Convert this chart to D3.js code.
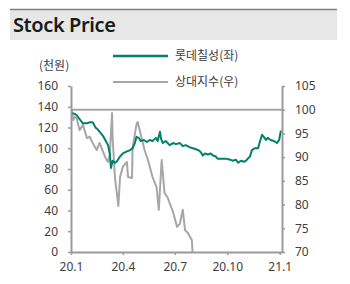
<!DOCTYPE html>
<html>
<head>
<meta charset="utf-8">
<script src="https://cdn.jsdelivr.net/npm/d3@7"></script>
<style>
  body { margin: 0; background: #fff; }
  svg { display: block; }
</style>
</head>
<body>
<svg width="350" height="284"></svg>
<script>
// 롯데칠성 주가 (천원, 좌축)
var lotteDates = ["2020-01-02","2020-01-08","2020-01-11","2020-01-16","2020-01-22","2020-01-29","2020-02-03","2020-02-08","2020-02-13","2020-02-17","2020-02-20","2020-02-26","2020-03-02","2020-03-06","2020-03-09","2020-03-11","2020-03-14","2020-03-18","2020-03-21","2020-03-27","2020-04-01","2020-04-08","2020-04-13","2020-04-18","2020-04-22","2020-04-25","2020-04-29","2020-05-02","2020-05-08","2020-05-13","2020-05-18","2020-05-23","2020-05-29","2020-06-01","2020-06-05","2020-06-07","2020-06-10","2020-06-15","2020-06-22","2020-06-28","2020-07-03","2020-07-10","2020-07-15","2020-07-20","2020-07-27","2020-08-02","2020-08-07","2020-08-12","2020-08-16","2020-08-19","2020-08-23","2020-08-28","2020-09-02","2020-09-06","2020-09-11","2020-09-14","2020-09-22","2020-09-29","2020-10-06","2020-10-11","2020-10-16","2020-10-20","2020-10-25","2020-10-30","2020-11-03","2020-11-06","2020-11-10","2020-11-13","2020-11-18","2020-11-24","2020-11-27","2020-12-01","2020-12-04","2020-12-08","2020-12-11","2020-12-16","2020-12-22","2020-12-27","2020-12-31","2021-01-03"];
var lotteValues = [134,133,132,128,124,124,125,125,120,118,116,112,107,103,95,81,88,86,87,92,95,97,98,100,105,111,110,107,108,106,108,107,110,107,116,109,105,107,103,105,104,105,102,103,101,100,99,98,96,93,95,94,95,93,92,90,90,90,89,88,89,86,88,87,88,90,92,98,100,100,106,113,111,108,110,108,107,105,108,117];

// 상대지수 (우축)
var relDates = ["2020-01-02","2020-01-05","2020-01-08","2020-01-11","2020-01-16","2020-01-22","2020-01-29","2020-02-03","2020-02-08","2020-02-15","2020-02-20","2020-03-01","2020-03-06","2020-03-09","2020-03-13","2020-03-14","2020-03-18","2020-03-24","2020-03-27","2020-04-01","2020-04-08","2020-04-10","2020-04-17","2020-04-18","2020-04-25","2020-04-27","2020-05-04","2020-05-09","2020-05-15","2020-05-23","2020-05-30","2020-06-03","2020-06-08","2020-06-13","2020-06-18","2020-06-28","2020-07-05","2020-07-10","2020-07-15","2020-07-19","2020-07-24","2020-07-31","2020-08-02"];
var relValues = [100,97.8,98.5,98.2,95.7,96.8,94,94.3,93,91.5,93,90,89,90.5,99.3,94,85.8,79.7,85.8,88,89,85.8,85.6,92,97,97.4,94,91.5,89.4,85.8,83.7,78.9,89.4,82.4,81.6,78.4,75.3,76,78.9,74.6,74,72.5,68];

var leftTicks = [0,20,40,60,80,100,120,140,160];
var rightTicks = [70,75,80,85,90,95,100,105];
var xTickDates = ["2020-01-01","2020-04-01","2020-07-01","2020-10-01","2021-01-01"];
var xTickLabels = ["20.1","20.4","20.7","20.10","21.1"];
var seriesNames = ["롯데칠성(좌)","상대지수(우)"];

var parse = d3.timeParse("%Y-%m-%d");
var svg = d3.select("svg");
var green = "#00816b", grey = "#a6a6a6", axisCol = "#9a9a9a";
var numFont = "'Noto Sans', sans-serif";
var krFont = "'Noto Sans CJK KR', sans-serif";

// 제목 띠
svg.append("rect").attr("x", 10).attr("y", 9).attr("width", 327).attr("height", 31).attr("fill", "#e7e7e7");
svg.append("line").attr("x1", 10).attr("x2", 337).attr("y1", 9.5).attr("y2", 9.5)
  .attr("stroke", "#7f7f7f").attr("stroke-width", 1.5);
svg.append("text").attr("x", 13).attr("y", 32)
  .style("font-family", numFont).style("font-size", "20px").style("font-weight", 600)
  .style("letter-spacing", "-0.4px")
  .attr("fill", "#1a1a1a").text("Stock Price");

var x = d3.scaleTime().domain([parse("2020-01-01"), parse("2021-01-05")]).range([71, 282]);
var yL = d3.scaleLinear().domain([0, 160]).range([252, 86]);
var yR = d3.scaleLinear().domain([70, 105]).range([252, 86]);

svg.append("defs").append("clipPath").attr("id", "plot")
  .append("rect").attr("x", 71).attr("y", 80).attr("width", 211).attr("height", 172);

// 기준선 100
svg.append("line").attr("x1", 71).attr("x2", 282).attr("y1", yR(100)).attr("y2", yR(100))
  .attr("stroke", grey).attr("stroke-width", 2);

var lotte = lotteDates.map(function (d, i) { return { date: parse(d), v: lotteValues[i] }; });
var rel = relDates.map(function (d, i) { return { date: parse(d), v: relValues[i] }; });

svg.append("path").datum(rel)
  .attr("clip-path", "url(#plot)")
  .attr("d", d3.line().x(function (d) { return x(d.date); }).y(function (d) { return yR(d.v); }))
  .style("fill", "none").style("stroke", grey).style("stroke-width", 2).style("stroke-linejoin", "round");

svg.append("path").datum(lotte)
  .attr("d", d3.line().x(function (d) { return x(d.date); }).y(function (d) { return yL(d.v); }))
  .style("fill", "none").style("stroke", green).style("stroke-width", 2).style("stroke-linejoin", "round");

function styleAxis(g) {
  g.select(".domain").attr("stroke", axisCol).attr("stroke-width", 2);
  g.selectAll(".tick line").attr("stroke", axisCol).attr("stroke-width", 1.5);
  g.selectAll(".tick text").attr("fill", "#404040")
    .style("font-family", numFont).style("font-size", "12px");
}

svg.append("g").attr("transform", "translate(71,0)")
  .call(d3.axisLeft(yL).tickValues(leftTicks).tickSize(3).tickSizeOuter(0).tickPadding(10))
  .call(styleAxis);

svg.append("g").attr("transform", "translate(282,0)")
  .call(d3.axisRight(yR).tickValues(rightTicks).tickSize(3).tickSizeOuter(0).tickPadding(10))
  .call(styleAxis);

svg.append("g").attr("transform", "translate(0,252)")
  .call(d3.axisBottom(x).tickValues(xTickDates.map(parse))
    .tickFormat(function (d, i) { return xTickLabels[i]; }).tickSize(3).tickSizeOuter(0).tickPadding(7))
  .call(styleAxis);

// 단위
svg.append("text").attr("x", 39).attr("y", 70)
  .style("font-family", krFont).style("font-size", "12px").attr("fill", "#404040").text("(천원)");

// 범례
var legend = svg.append("g").selectAll("g").data(seriesNames).enter().append("g")
  .attr("transform", function (d, i) { return "translate(113," + (56 + i * 26) + ")"; });
legend.append("line").attr("x1", 0).attr("x2", 55)
  .attr("stroke", function (d, i) { return i === 0 ? green : grey; })
  .attr("stroke-width", function (d, i) { return i === 0 ? 2.5 : 2; });
legend.append("text").attr("x", 62).attr("y", 4)
  .style("font-family", krFont).style("font-size", "12px").attr("fill", "#404040")
  .text(function (d) { return d; });
</script>
</body>
</html>
